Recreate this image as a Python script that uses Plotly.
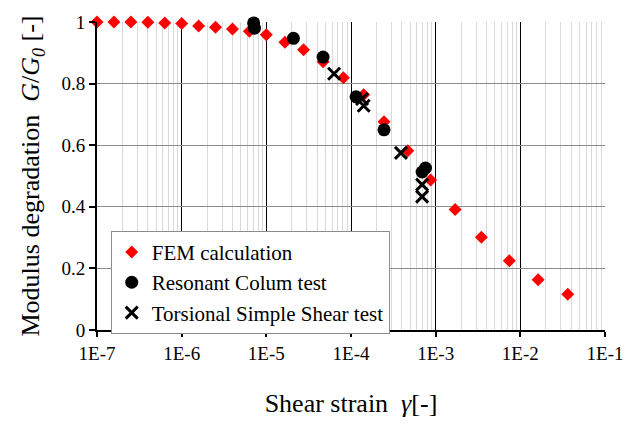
import plotly.graph_objects as go

# FEM calculation: shear strain (log10) and modulus ratio G/G0
fem_log_strain = [-7.0, -6.8, -6.6, -6.4, -6.2, -6.0, -5.8, -5.6, -5.4, -5.2,
                  -5.0, -4.78, -4.56, -4.33, -4.09, -3.85, -3.61, -3.33,
                  -3.06, -2.77, -2.46, -2.13, -1.79, -1.44]
fem_ratio = [1.0, 1.0, 1.0, 0.999, 0.997, 0.995, 0.987, 0.983, 0.977, 0.970,
             0.959, 0.934, 0.910, 0.871, 0.819, 0.764, 0.676, 0.582,
             0.487, 0.391, 0.301, 0.225, 0.163, 0.116]

# Resonant column test
rc_log_strain = [-5.15, -5.14, -4.68, -4.33, -3.94, -3.61, -3.16, -3.12]
rc_ratio = [0.997, 0.980, 0.947, 0.886, 0.757, 0.650, 0.513, 0.526]

# Torsional simple shear test
tss_log_strain = [-4.20, -3.87, -3.85, -3.41, -3.16, -3.16]
tss_ratio = [0.832, 0.750, 0.728, 0.575, 0.472, 0.433]

x_tick_vals = [1e-7, 1e-6, 1e-5, 1e-4, 1e-3, 1e-2, 1e-1]
x_tick_text = ["1E-7", "1E-6", "1E-5", "1E-4", "1E-3", "1E-2", "1E-1"]
y_tick_vals = [0, 0.2, 0.4, 0.6, 0.8, 1]
y_tick_text = ["0", "0.2", "0.4", "0.6", "0.8", "1"]

SERIF = "Liberation Serif, Times New Roman, serif"

def to_strain(logs):
    return [10 ** v for v in logs]

fig = go.Figure()
fig.add_trace(go.Scatter(
    x=to_strain(fem_log_strain), y=fem_ratio, mode="markers",
    name="FEM calculation",
    marker=dict(symbol="diamond", size=10, color="#ff0000"),
    cliponaxis=False))
fig.add_trace(go.Scatter(
    x=to_strain(rc_log_strain), y=rc_ratio, mode="markers",
    name="Resonant Colum test",
    marker=dict(symbol="circle", size=13, color="#000000"),
    cliponaxis=False))
fig.add_trace(go.Scatter(
    x=to_strain(tss_log_strain), y=tss_ratio, mode="markers",
    name="Torsional Simple Shear test",
    marker=dict(symbol="x-thin", size=12, color="#000000",
                line=dict(width=3, color="#000000")),
    cliponaxis=False))

fig.update_layout(
    width=635, height=425,
    margin=dict(l=97, r=30, t=17, b=90),
    paper_bgcolor="white", plot_bgcolor="white",
    font=dict(family=SERIF, color="black"),
    showlegend=True,
    legend=dict(
        x=0.027, y=0.322, xanchor="left", yanchor="top",
        bgcolor="white", bordercolor="#8c8c8c", borderwidth=1,
        font=dict(family=SERIF, size=21, color="black"),
    ),
    xaxis=dict(
        type="log", range=[-7, -1],
        tickvals=x_tick_vals, ticktext=x_tick_text,
        tickfont=dict(family=SERIF, size=19, color="black"),
        ticks="outside", ticklen=5, tickwidth=2, tickcolor="black",
        showline=True, linecolor="black", linewidth=2,
        showgrid=True, gridcolor="#000000", gridwidth=1.3,
        minor=dict(dtick="D1", showgrid=True, gridcolor="#d9d9d9",
                   gridwidth=1, ticks=""),
        zeroline=False,
        title=dict(text="Shear strain  <i>γ</i>[-]",
                   font=dict(family=SERIF, size=26, color="black"),
                   standoff=31),
    ),
    yaxis=dict(
        range=[0, 1],
        tickvals=y_tick_vals, ticktext=y_tick_text,
        tickfont=dict(family=SERIF, size=19, color="black"),
        ticks="outside", ticklen=6, tickwidth=2, tickcolor="black",
        showline=True, linecolor="black", linewidth=2,
        showgrid=True, gridcolor="#8c8c8c", gridwidth=1.3,
        zeroline=False,
        title=dict(text="Modulus degradation  <i>G</i>/<i>G</i><sub><i>0</i></sub> [-]",
                   font=dict(family=SERIF, size=26, color="black"),
                   standoff=14),
    ),
)

fig.write_html("out.html")
